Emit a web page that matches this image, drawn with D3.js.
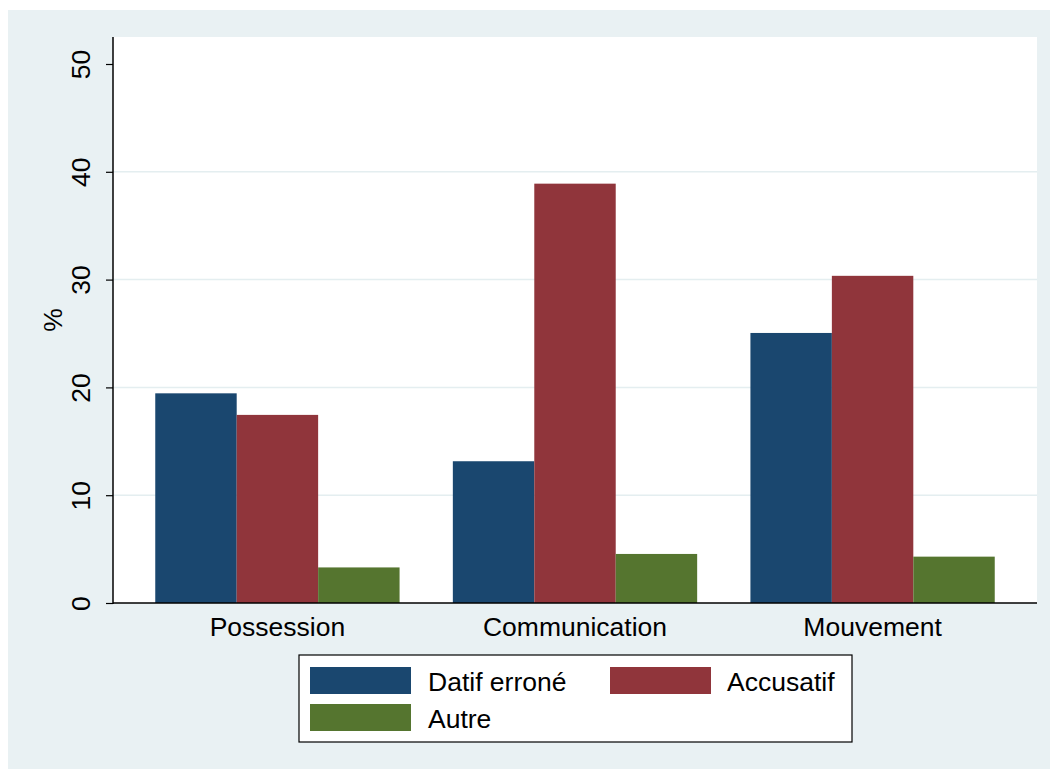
<!DOCTYPE html>
<html><head><meta charset="utf-8">
<script src="https://cdn.jsdelivr.net/npm/d3@7"></script>
<style>body{margin:0;background:#fff}svg{display:block}text{font-family:"Liberation Sans",Arial,Helvetica,sans-serif}</style>
</head><body>
<svg id="c" width="1050" height="769"></svg>
<script>
const categories = ["Possession", "Communication", "Mouvement"];
const seriesNames = ["Datif erroné", "Accusatif", "Autre"];
const datifErrone = [19.45, 13.15, 25.05];
const accusatif = [17.45, 38.9, 30.35];
const autre = [3.3, 4.55, 4.3];
const yTicks = [0, 10, 20, 30, 40, 50];
const colors = ["#1a476f", "#90353b", "#55752f"];

const series = [datifErrone, accusatif, autre];
const svg = d3.select("#c");
const bg = "#e9f1f3";
const FS = "26.5px";
svg.append("rect").attr("x", 8).attr("y", 10).attr("width", 1042).attr("height", 759).attr("fill", bg);

const L = 113, R = 1037, T = 37, B = 603;
svg.append("rect").attr("x", L).attr("y", T).attr("width", R - L).attr("height", B - T).attr("fill", "#fff");

const y = d3.scaleLinear().domain([0, 50]).range([B, 64]);
const x0 = d3.scaleBand().domain(categories).range([L, R]).paddingInner(0.179).paddingOuter(0.142);
const x1 = d3.scaleBand().domain(seriesNames).range([0, x0.bandwidth()]);

// grid
svg.append("g").selectAll("line").data(yTicks.filter(t => t > 0 && t < 50)).join("line")
  .attr("x1", L).attr("x2", R).attr("y1", d => y(d)).attr("y2", d => y(d))
  .attr("stroke", "#e4eef0").attr("stroke-width", 1.5);

// bars
const g = svg.append("g");
categories.forEach((c, i) => {
  seriesNames.forEach((s, j) => {
    g.append("rect")
      .attr("x", x0(c) + x1(s)).attr("width", x1.bandwidth())
      .attr("y", y(series[j][i])).attr("height", y(0) - y(series[j][i]))
      .attr("fill", colors[j]);
  });
});

// y axis
const yAxis = d3.axisLeft(y).tickValues(yTicks).tickSize(7).tickPadding(0);
const ya = svg.append("g").attr("transform", `translate(${L},0)`).call(yAxis);
ya.select(".domain").remove();
ya.selectAll(".tick line").attr("stroke", "#000").attr("stroke-width", 1.2);
ya.selectAll(".tick text").remove();
ya.selectAll(".tick").append("text")
  .attr("transform", "translate(-23,0) rotate(-90)")
  .attr("text-anchor", "middle").attr("fill", "#000")
  .style("font-size", FS).text(d => d);
svg.append("line").attr("x1", L).attr("x2", L).attr("y1", T).attr("y2", B + 1).attr("stroke", "#000").attr("stroke-width", 1.5);

// x axis
svg.append("line").attr("x1", L).attr("x2", R).attr("y1", B).attr("y2", B).attr("stroke", "#000").attr("stroke-width", 1.5);
const xAxis = d3.axisBottom(x0).tickSize(0).tickPadding(0);
const xa = svg.append("g").attr("transform", `translate(0,${B})`).call(xAxis);
xa.select(".domain").remove();
xa.selectAll(".tick text").attr("y", 33).attr("dy", 0).attr("fill", "#000").style("font-size", FS);

// y title
svg.append("text").attr("transform", `translate(62,320) rotate(-90)`).attr("text-anchor", "middle")
  .style("font-size", FS).text("%");

// legend
svg.append("rect").attr("x", 299).attr("y", 655).attr("width", 553).attr("height", 87)
  .attr("fill", "#fff").attr("stroke", "#000").attr("stroke-width", 1.2);
const legPos = [[310, 667, 428, 691], [610, 667, 727, 691], [310, 704, 428, 728]];
seriesNames.forEach((s, j) => {
  const p = legPos[j];
  svg.append("rect").attr("x", p[0]).attr("y", p[1]).attr("width", 101).attr("height", 27).attr("fill", colors[j]);
  svg.append("text").attr("x", p[2]).attr("y", p[3]).style("font-size", FS).text(s);
});
</script>
</body></html>
